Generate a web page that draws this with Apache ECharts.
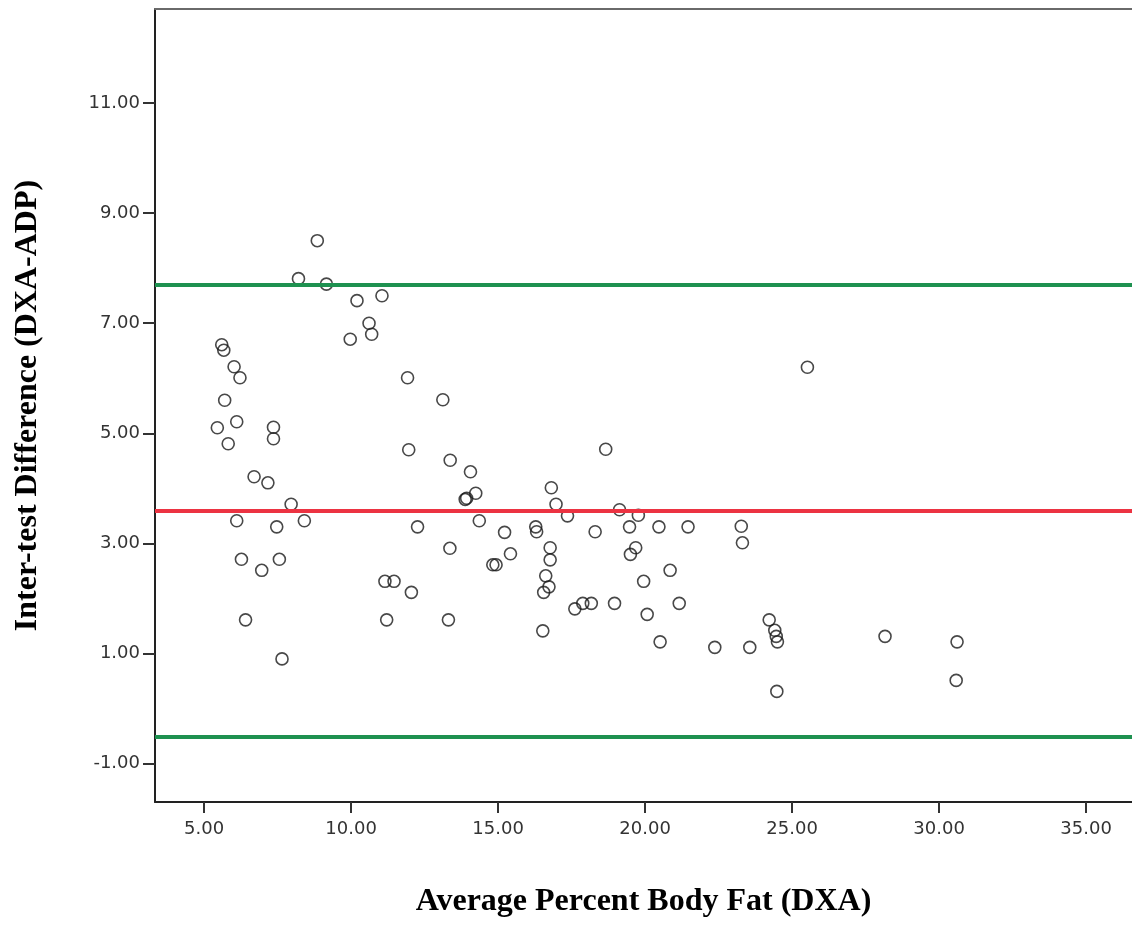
<!DOCTYPE html>
<html>
<head>
<meta charset="utf-8">
<script src="https://cdn.jsdelivr.net/npm/echarts@6/dist/echarts.min.js"></script>
<style>
  html, body { margin: 0; padding: 0; background: #fff; }
  #bland-altman-chart { width: 1132px; height: 943px; }
</style>
</head>
<body>
<div id="bland-altman-chart"></div>
<script>
// data
var avgBodyFat = [8.85, 8.21, 9.16, 10.20, 11.05, 10.61, 10.70, 9.97, 5.60, 5.67,
  6.02, 6.22, 11.92, 5.70, 13.12, 5.45, 6.11, 7.36, 7.36, 5.82,
  11.96, 13.37, 14.06, 6.70, 7.17, 7.96, 6.11, 7.47, 8.41, 6.27,
  6.96, 7.56, 6.41, 7.65, 12.26, 13.36, 11.15, 11.46, 12.05, 11.21,
  13.31, 13.88, 13.93, 14.24, 14.36, 15.22, 16.28, 16.31, 16.81, 16.97,
  17.36, 18.30, 18.66, 19.13, 19.47, 19.77, 20.47, 21.46, 23.27, 23.31,
  15.42, 14.82, 14.93, 16.77, 16.77, 16.62, 16.73, 16.55, 16.52, 19.68,
  19.50, 20.85, 19.95, 17.61, 17.88, 18.17, 18.96, 20.07, 21.16, 20.51,
  22.37, 23.56, 24.22, 24.41, 24.46, 24.50, 24.48, 25.52, 28.16, 30.61,
  30.58];
var diffDxaAdp = [8.50, 7.81, 7.71, 7.41, 7.50, 7.00, 6.80, 6.71, 6.61, 6.51,
  6.21, 6.01, 6.01, 5.60, 5.61, 5.10, 5.21, 5.11, 4.90, 4.81,
  4.70, 4.51, 4.30, 4.21, 4.10, 3.71, 3.41, 3.30, 3.41, 2.71,
  2.51, 2.71, 1.61, 0.90, 3.30, 2.91, 2.31, 2.31, 2.11, 1.61,
  1.61, 3.80, 3.82, 3.91, 3.41, 3.20, 3.30, 3.21, 4.01, 3.71,
  3.50, 3.21, 4.71, 3.61, 3.30, 3.51, 3.30, 3.30, 3.31, 3.01,
  2.81, 2.61, 2.61, 2.92, 2.70, 2.41, 2.21, 2.11, 1.41, 2.92,
  2.80, 2.51, 2.31, 1.81, 1.91, 1.91, 1.91, 1.71, 1.91, 1.21,
  1.11, 1.11, 1.61, 1.42, 1.31, 1.21, 0.31, 6.20, 1.31, 1.21,
  0.51];

// mean difference and limits of agreement
var meanDiff = 3.59;
var upperLimit = 7.70;
var lowerLimit = -0.52;

var xTicks = [5, 10, 15, 20, 25, 30, 35];
var yTicks = [-1, 1, 3, 5, 7, 9, 11];

function loadBlandAltmanChart() {
  var chart = echarts.init(document.getElementById('bland-altman-chart'));

  var points = [];
  for (var i = 0; i < avgBodyFat.length; i++) {
    points.push([avgBodyFat[i], diffDxaAdp[i]]);
  }

  var labelFont = {
    fontFamily: 'DejaVu Sans',
    fontSize: 18,
    color: '#333'
  };
  var titleFont = {
    fontFamily: 'Liberation Serif',
    fontWeight: 'bold',
    fontSize: 32,
    color: '#000'
  };

  var option = {
    backgroundColor: '#fff',
    animation: false,
    grid: {
      left: 155,
      top: 9,
      right: 0,
      bottom: 141,
      show: false
    },
    xAxis: [{
      type: 'value',
      min: 3.33,
      max: 36.56,
      name: 'Average Percent Body Fat (DXA)',
      nameLocation: 'middle',
      nameGap: 84,
      nameTextStyle: titleFont,
      axisLine: { onZero: false, lineStyle: { color: '#222', width: 2 } },
      axisTick: { show: true, length: 11, customValues: xTicks, lineStyle: { color: '#333', width: 2 } },
      axisLabel: Object.assign({
        customValues: xTicks,
        margin: 18,
        formatter: function (v) { return v.toFixed(2); }
      }, labelFont),
      splitLine: { show: false }
    }, {
      // top frame line
      type: 'value',
      position: 'top',
      min: 3.33,
      max: 36.56,
      axisLine: { onZero: false, lineStyle: { color: '#6a6a6a', width: 2 } },
      axisTick: { show: false },
      axisLabel: { show: false },
      splitLine: { show: false }
    }],
    yAxis: {
      type: 'value',
      min: -1.70,
      max: 12.71,
      name: 'Inter-test Difference (DXA-ADP)',
      nameLocation: 'middle',
      nameGap: 111,
      nameTextStyle: titleFont,
      axisLine: { onZero: false, lineStyle: { color: '#222', width: 2 } },
      axisTick: { show: true, length: 12, customValues: yTicks, lineStyle: { color: '#333', width: 2 } },
      axisLabel: Object.assign({
        customValues: yTicks,
        margin: 15,
        formatter: function (v) { return v.toFixed(2); }
      }, labelFont),
      splitLine: { show: false }
    },
    series: [{
      type: 'scatter',
      data: points,
      symbol: 'circle',
      symbolSize: 12,
      itemStyle: {
        color: 'rgba(0,0,0,0)',
        borderColor: '#1a1a1a',
        borderWidth: 1.6
      },
      markLine: {
        silent: true,
        symbol: 'none',
        label: { show: false },
        data: [
          { yAxis: upperLimit, lineStyle: { color: '#1e9150', width: 4, type: 'solid' } },
          { yAxis: meanDiff, lineStyle: { color: '#ec3342', width: 4, type: 'solid' } },
          { yAxis: lowerLimit, lineStyle: { color: '#1e9150', width: 4, type: 'solid' } }
        ]
      },
      z: 3
    }]
  };

  chart.setOption(option);
}

loadBlandAltmanChart();
</script>
</body>
</html>
